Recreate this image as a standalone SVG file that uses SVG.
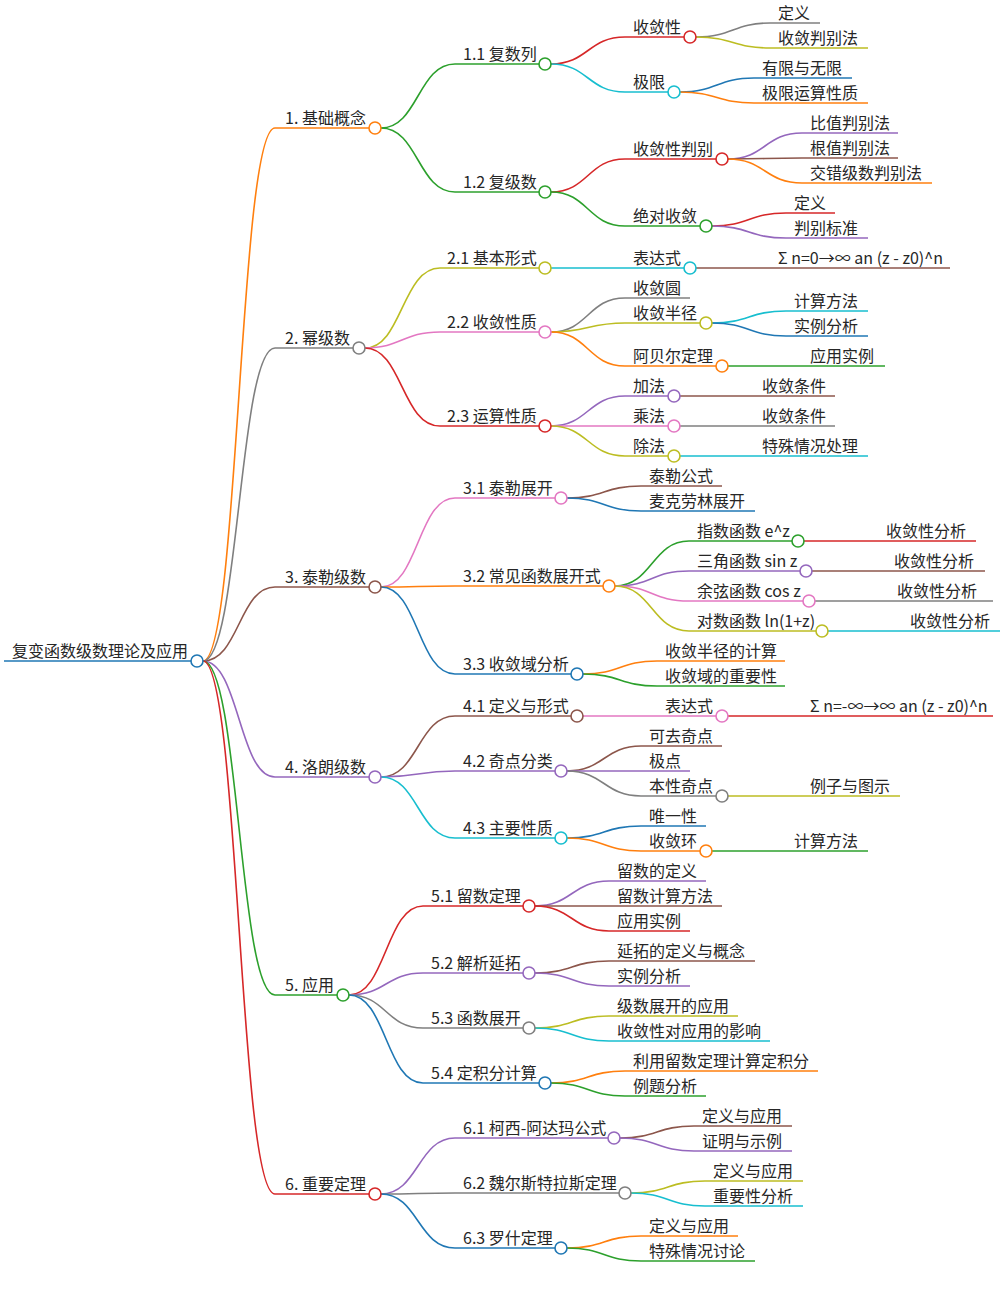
<svg xmlns="http://www.w3.org/2000/svg" width="1006" height="1299" viewBox="0 0 1006 1299">
<style>
text{font-family:"Noto Sans CJK SC","Noto Sans",sans-serif;font-size:16px;fill:#262626}
path{fill:none;stroke-width:1.6}
circle{fill:#fff;stroke-width:1.6}
.r{stroke:#d62728}.g{stroke:#2ca02c}.c{stroke:#17becf}.k{stroke:#7f7f7f}.y{stroke:#bcbd22}.p{stroke:#e377c2}.o{stroke:#ff7f0e}.v{stroke:#9467bd}.b{stroke:#8c564b}.u{stroke:#1f77b4}
</style>
<rect width="1006" height="1299" fill="#fff"/>
<g id="connectors">
<path class="o" d="M203 661C239 661 239 128 275 128"/>
<path class="k" d="M203 661C239 661 239 348 275 348"/>
<path class="b" d="M203 661C239 661 239 587 275 587"/>
<path class="v" d="M203 661C239 661 239 777 275 777"/>
<path class="g" d="M203 661C239 661 239 995 275 995"/>
<path class="r" d="M203 661C239 661 239 1194 275 1194"/>
<path class="g" d="M381 128C418 128 418 64 455 64"/>
<path class="g" d="M381 128C418 128 418 192 455 192"/>
<path class="r" d="M551 64C588 64 588 37 625 37"/>
<path class="c" d="M551 64C588 64 588 92 625 92"/>
<path class="k" d="M696 37C733 37 733 23 770 23"/>
<path class="y" d="M696 37C733 37 733 48 770 48"/>
<path class="u" d="M680 92C717 92 717 78 754 78"/>
<path class="o" d="M680 92C717 92 717 103 754 103"/>
<path class="r" d="M551 192C588 192 588 159 625 159"/>
<path class="g" d="M551 192C588 192 588 226 625 226"/>
<path class="v" d="M728 159C765 159 765 133 802 133"/>
<path class="b" d="M728 159C765 159 765 158 802 158"/>
<path class="o" d="M728 159C765 159 765 183 802 183"/>
<path class="r" d="M712 226C749 226 749 213 786 213"/>
<path class="v" d="M712 226C749 226 749 238 786 238"/>
<path class="y" d="M365 348C402 348 402 268 440 268"/>
<path class="p" d="M365 348C402 348 402 332 440 332"/>
<path class="r" d="M365 348C402 348 402 426 440 426"/>
<path class="c" d="M551 268C588 268 588 268 625 268"/>
<path class="b" d="M696 268C733 268 733 268 770 268"/>
<path class="k" d="M551 332C588 332 588 298 625 298"/>
<path class="y" d="M551 332C588 332 588 323 625 323"/>
<path class="o" d="M551 332C588 332 588 366 625 366"/>
<path class="c" d="M712 323C749 323 749 311 786 311"/>
<path class="u" d="M712 323C749 323 749 336 786 336"/>
<path class="g" d="M728 366C765 366 765 366 802 366"/>
<path class="v" d="M551 426C588 426 588 396 625 396"/>
<path class="p" d="M551 426C588 426 588 426 625 426"/>
<path class="y" d="M551 426C588 426 588 456 625 456"/>
<path class="b" d="M680 396C717 396 717 396 754 396"/>
<path class="k" d="M680 426C717 426 717 426 754 426"/>
<path class="c" d="M680 456C717 456 717 456 754 456"/>
<path class="p" d="M381 587C418 587 418 498 455 498"/>
<path class="o" d="M381 587C418 587 418 586 455 586"/>
<path class="u" d="M381 587C418 587 418 674 455 674"/>
<path class="b" d="M567 498C604 498 604 486 641 486"/>
<path class="u" d="M567 498C604 498 604 511 641 511"/>
<path class="g" d="M615 586C652 586 652 541 689 541"/>
<path class="v" d="M615 586C652 586 652 571 689 571"/>
<path class="p" d="M615 586C652 586 652 601 689 601"/>
<path class="y" d="M615 586C652 586 652 631 689 631"/>
<path class="r" d="M804 541C841 541 841 541 878 541"/>
<path class="b" d="M812 571C849 571 849 571 886 571"/>
<path class="k" d="M815 601C852 601 852 601 889 601"/>
<path class="c" d="M828 631C865 631 865 631 902 631"/>
<path class="o" d="M583 674C620 674 620 661 657 661"/>
<path class="g" d="M583 674C620 674 620 686 657 686"/>
<path class="b" d="M381 777C418 777 418 716 455 716"/>
<path class="v" d="M381 777C418 777 418 771 455 771"/>
<path class="c" d="M381 777C418 777 418 838 455 838"/>
<path class="p" d="M583 716C620 716 620 716 657 716"/>
<path class="r" d="M728 716C765 716 765 716 802 716"/>
<path class="b" d="M567 771C604 771 604 746 641 746"/>
<path class="v" d="M567 771C604 771 604 771 641 771"/>
<path class="k" d="M567 771C604 771 604 796 641 796"/>
<path class="y" d="M728 796C765 796 765 796 802 796"/>
<path class="u" d="M567 838C604 838 604 826 641 826"/>
<path class="o" d="M567 838C604 838 604 851 641 851"/>
<path class="g" d="M712 851C749 851 749 851 786 851"/>
<path class="r" d="M349 995C386 995 386 906 423 906"/>
<path class="v" d="M349 995C386 995 386 973 423 973"/>
<path class="k" d="M349 995C386 995 386 1028 423 1028"/>
<path class="u" d="M349 995C386 995 386 1083 423 1083"/>
<path class="v" d="M535 906C572 906 572 881 609 881"/>
<path class="b" d="M535 906C572 906 572 906 609 906"/>
<path class="r" d="M535 906C572 906 572 931 609 931"/>
<path class="b" d="M535 973C572 973 572 961 609 961"/>
<path class="v" d="M535 973C572 973 572 986 609 986"/>
<path class="y" d="M535 1028C572 1028 572 1016 609 1016"/>
<path class="c" d="M535 1028C572 1028 572 1041 609 1041"/>
<path class="o" d="M551 1083C588 1083 588 1071 625 1071"/>
<path class="g" d="M551 1083C588 1083 588 1096 625 1096"/>
<path class="v" d="M381 1194C418 1194 418 1138 455 1138"/>
<path class="k" d="M381 1194C418 1194 418 1193 455 1193"/>
<path class="u" d="M381 1194C418 1194 418 1248 455 1248"/>
<path class="b" d="M620 1138C657 1138 657 1126 694 1126"/>
<path class="v" d="M620 1138C657 1138 657 1151 694 1151"/>
<path class="y" d="M631 1193C668 1193 668 1181 705 1181"/>
<path class="c" d="M631 1193C668 1193 668 1206 705 1206"/>
<path class="o" d="M567 1248C604 1248 604 1236 641 1236"/>
<path class="g" d="M567 1248C604 1248 604 1261 641 1261"/>
</g>
<g id="root"><path class="u" stroke-width="3.5" d="M4 661H191"/><circle class="u" cx="197" cy="661" r="6"/><text x="12" y="657">复变函数级数理论及应用</text></g>
<g id="n1"><path class="o" d="M275 128H369"/><circle class="o" cx="375" cy="128" r="6"/><text x="285" y="124">1. 基础概念</text></g>
<g id="n11"><path class="g" d="M455 64H539"/><circle class="g" cx="545" cy="64" r="6"/><text x="463" y="60">1.1 复数列</text></g>
<g id="n111"><path class="r" d="M625 37H684"/><circle class="r" cx="690" cy="37" r="6"/><text x="633" y="33">收敛性</text></g>
<g id="n1111"><path class="k" d="M770 23H820"/><text x="778" y="19">定义</text></g>
<g id="n1112"><path class="y" d="M770 48H868"/><text x="778" y="44">收敛判别法</text></g>
<g id="n112"><path class="c" d="M625 92H668"/><circle class="c" cx="674" cy="92" r="6"/><text x="633" y="88">极限</text></g>
<g id="n1121"><path class="u" d="M754 78H852"/><text x="762" y="74">有限与无限</text></g>
<g id="n1122"><path class="o" d="M754 103H868"/><text x="762" y="99">极限运算性质</text></g>
<g id="n12"><path class="g" d="M455 192H539"/><circle class="g" cx="545" cy="192" r="6"/><text x="463" y="188">1.2 复级数</text></g>
<g id="n121"><path class="r" d="M625 159H716"/><circle class="r" cx="722" cy="159" r="6"/><text x="633" y="155">收敛性判别</text></g>
<g id="n1211"><path class="v" d="M802 133H898"/><text x="810" y="129">比值判别法</text></g>
<g id="n1212"><path class="b" d="M802 158H898"/><text x="810" y="154">根值判别法</text></g>
<g id="n1213"><path class="o" d="M802 183H932"/><text x="810" y="179">交错级数判别法</text></g>
<g id="n122"><path class="g" d="M625 226H700"/><circle class="g" cx="706" cy="226" r="6"/><text x="633" y="222">绝对收敛</text></g>
<g id="n1221"><path class="r" d="M786 213H835"/><text x="794" y="209">定义</text></g>
<g id="n1222"><path class="v" d="M786 238H868"/><text x="794" y="234">判别标准</text></g>
<g id="n2"><path class="k" d="M275 348H353"/><circle class="k" cx="359" cy="348" r="6"/><text x="285" y="344">2. 幂级数</text></g>
<g id="n21"><path class="y" d="M440 268H539"/><circle class="y" cx="545" cy="268" r="6"/><text x="447" y="264">2.1 基本形式</text></g>
<g id="n211"><path class="c" d="M625 268H684"/><circle class="c" cx="690" cy="268" r="6"/><text x="633" y="264">表达式</text></g>
<g id="n2111"><path class="b" d="M770 268H950"/><text x="778" y="264">Σ n=0→∞ an (z - z0)^n</text></g>
<g id="n22"><path class="p" d="M440 332H539"/><circle class="p" cx="545" cy="332" r="6"/><text x="447" y="328">2.2 收敛性质</text></g>
<g id="n221"><path class="k" d="M625 298H690"/><text x="633" y="294">收敛圆</text></g>
<g id="n222"><path class="y" d="M625 323H700"/><circle class="y" cx="706" cy="323" r="6"/><text x="633" y="319">收敛半径</text></g>
<g id="n2221"><path class="c" d="M786 311H868"/><text x="794" y="307">计算方法</text></g>
<g id="n2222"><path class="u" d="M786 336H868"/><text x="794" y="332">实例分析</text></g>
<g id="n223"><path class="o" d="M625 366H716"/><circle class="o" cx="722" cy="366" r="6"/><text x="633" y="362">阿贝尔定理</text></g>
<g id="n2231"><path class="g" d="M802 366H885"/><text x="810" y="362">应用实例</text></g>
<g id="n23"><path class="r" d="M440 426H539"/><circle class="r" cx="545" cy="426" r="6"/><text x="447" y="422">2.3 运算性质</text></g>
<g id="n231"><path class="v" d="M625 396H668"/><circle class="v" cx="674" cy="396" r="6"/><text x="633" y="392">加法</text></g>
<g id="n2311"><path class="b" d="M754 396H835"/><text x="762" y="392">收敛条件</text></g>
<g id="n232"><path class="p" d="M625 426H668"/><circle class="p" cx="674" cy="426" r="6"/><text x="633" y="422">乘法</text></g>
<g id="n2321"><path class="k" d="M754 426H835"/><text x="762" y="422">收敛条件</text></g>
<g id="n233"><path class="y" d="M625 456H668"/><circle class="y" cx="674" cy="456" r="6"/><text x="633" y="452">除法</text></g>
<g id="n2331"><path class="c" d="M754 456H868"/><text x="762" y="452">特殊情况处理</text></g>
<g id="n3"><path class="b" d="M275 587H369"/><circle class="b" cx="375" cy="587" r="6"/><text x="285" y="583">3. 泰勒级数</text></g>
<g id="n31"><path class="p" d="M455 498H555"/><circle class="p" cx="561" cy="498" r="6"/><text x="463" y="494">3.1 泰勒展开</text></g>
<g id="n311"><path class="b" d="M641 486H722"/><text x="649" y="482">泰勒公式</text></g>
<g id="n312"><path class="u" d="M641 511H755"/><text x="649" y="507">麦克劳林展开</text></g>
<g id="n32"><path class="o" d="M455 586H603"/><circle class="o" cx="609" cy="586" r="6"/><text x="463" y="582">3.2 常见函数展开式</text></g>
<g id="n321"><path class="g" d="M689 541H792"/><circle class="g" cx="798" cy="541" r="6"/><text x="697" y="537">指数函数 e^z</text></g>
<g id="n3211"><path class="r" d="M878 541H976"/><text x="886" y="537">收敛性分析</text></g>
<g id="n322"><path class="v" d="M689 571H800"/><circle class="v" cx="806" cy="571" r="6"/><text x="697" y="567">三角函数 sin z</text></g>
<g id="n3221"><path class="b" d="M886 571H985"/><text x="894" y="567">收敛性分析</text></g>
<g id="n323"><path class="p" d="M689 601H803"/><circle class="p" cx="809" cy="601" r="6"/><text x="697" y="597">余弦函数 cos z</text></g>
<g id="n3231"><path class="k" d="M889 601H993"/><text x="897" y="597">收敛性分析</text></g>
<g id="n324"><path class="y" d="M689 631H816"/><circle class="y" cx="822" cy="631" r="6"/><text x="697" y="627">对数函数 ln(1+z)</text></g>
<g id="n3241"><path class="c" d="M902 631H1000"/><text x="910" y="627">收敛性分析</text></g>
<g id="n33"><path class="u" d="M455 674H571"/><circle class="u" cx="577" cy="674" r="6"/><text x="463" y="670">3.3 收敛域分析</text></g>
<g id="n331"><path class="o" d="M657 661H785"/><text x="665" y="657">收敛半径的计算</text></g>
<g id="n332"><path class="g" d="M657 686H785"/><text x="665" y="682">收敛域的重要性</text></g>
<g id="n4"><path class="v" d="M275 777H369"/><circle class="v" cx="375" cy="777" r="6"/><text x="285" y="773">4. 洛朗级数</text></g>
<g id="n41"><path class="b" d="M455 716H571"/><circle class="b" cx="577" cy="716" r="6"/><text x="463" y="712">4.1 定义与形式</text></g>
<g id="n411"><path class="p" d="M657 716H716"/><circle class="p" cx="722" cy="716" r="6"/><text x="665" y="712">表达式</text></g>
<g id="n4111"><path class="r" d="M802 716H993"/><text x="810" y="712">Σ n=-∞→∞ an (z - z0)^n</text></g>
<g id="n42"><path class="v" d="M455 771H555"/><circle class="v" cx="561" cy="771" r="6"/><text x="463" y="767">4.2 奇点分类</text></g>
<g id="n421"><path class="b" d="M641 746H722"/><text x="649" y="742">可去奇点</text></g>
<g id="n422"><path class="v" d="M641 771H690"/><text x="649" y="767">极点</text></g>
<g id="n423"><path class="k" d="M641 796H716"/><circle class="k" cx="722" cy="796" r="6"/><text x="649" y="792">本性奇点</text></g>
<g id="n4231"><path class="y" d="M802 796H900"/><text x="810" y="792">例子与图示</text></g>
<g id="n43"><path class="c" d="M455 838H555"/><circle class="c" cx="561" cy="838" r="6"/><text x="463" y="834">4.3 主要性质</text></g>
<g id="n431"><path class="u" d="M641 826H706"/><text x="649" y="822">唯一性</text></g>
<g id="n432"><path class="o" d="M641 851H700"/><circle class="o" cx="706" cy="851" r="6"/><text x="649" y="847">收敛环</text></g>
<g id="n4321"><path class="g" d="M786 851H868"/><text x="794" y="847">计算方法</text></g>
<g id="n5"><path class="g" d="M275 995H337"/><circle class="g" cx="343" cy="995" r="6"/><text x="285" y="991">5. 应用</text></g>
<g id="n51"><path class="r" d="M423 906H523"/><circle class="r" cx="529" cy="906" r="6"/><text x="431" y="902">5.1 留数定理</text></g>
<g id="n511"><path class="v" d="M609 881H706"/><text x="617" y="877">留数的定义</text></g>
<g id="n512"><path class="b" d="M609 906H722"/><text x="617" y="902">留数计算方法</text></g>
<g id="n513"><path class="r" d="M609 931H690"/><text x="617" y="927">应用实例</text></g>
<g id="n52"><path class="v" d="M423 973H523"/><circle class="v" cx="529" cy="973" r="6"/><text x="431" y="969">5.2 解析延拓</text></g>
<g id="n521"><path class="b" d="M609 961H755"/><text x="617" y="957">延拓的定义与概念</text></g>
<g id="n522"><path class="v" d="M609 986H690"/><text x="617" y="982">实例分析</text></g>
<g id="n53"><path class="k" d="M423 1028H523"/><circle class="k" cx="529" cy="1028" r="6"/><text x="431" y="1024">5.3 函数展开</text></g>
<g id="n531"><path class="y" d="M609 1016H738"/><text x="617" y="1012">级数展开的应用</text></g>
<g id="n532"><path class="c" d="M609 1041H770"/><text x="617" y="1037">收敛性对应用的影响</text></g>
<g id="n54"><path class="u" d="M423 1083H539"/><circle class="u" cx="545" cy="1083" r="6"/><text x="431" y="1079">5.4 定积分计算</text></g>
<g id="n541"><path class="o" d="M625 1071H818"/><text x="633" y="1067">利用留数定理计算定积分</text></g>
<g id="n542"><path class="g" d="M625 1096H706"/><text x="633" y="1092">例题分析</text></g>
<g id="n6"><path class="r" d="M275 1194H369"/><circle class="r" cx="375" cy="1194" r="6"/><text x="285" y="1190">6. 重要定理</text></g>
<g id="n61"><path class="v" d="M455 1138H608"/><circle class="v" cx="614" cy="1138" r="6"/><text x="463" y="1134">6.1 柯西-阿达玛公式</text></g>
<g id="n611"><path class="b" d="M694 1126H792"/><text x="702" y="1122">定义与应用</text></g>
<g id="n612"><path class="v" d="M694 1151H792"/><text x="702" y="1147">证明与示例</text></g>
<g id="n62"><path class="k" d="M455 1193H619"/><circle class="k" cx="625" cy="1193" r="6"/><text x="463" y="1189">6.2 魏尔斯特拉斯定理</text></g>
<g id="n621"><path class="y" d="M705 1181H803"/><text x="713" y="1177">定义与应用</text></g>
<g id="n622"><path class="c" d="M705 1206H803"/><text x="713" y="1202">重要性分析</text></g>
<g id="n63"><path class="u" d="M455 1248H555"/><circle class="u" cx="561" cy="1248" r="6"/><text x="463" y="1244">6.3 罗什定理</text></g>
<g id="n631"><path class="o" d="M641 1236H738"/><text x="649" y="1232">定义与应用</text></g>
<g id="n632"><path class="g" d="M641 1261H755"/><text x="649" y="1257">特殊情况讨论</text></g>
</svg>
